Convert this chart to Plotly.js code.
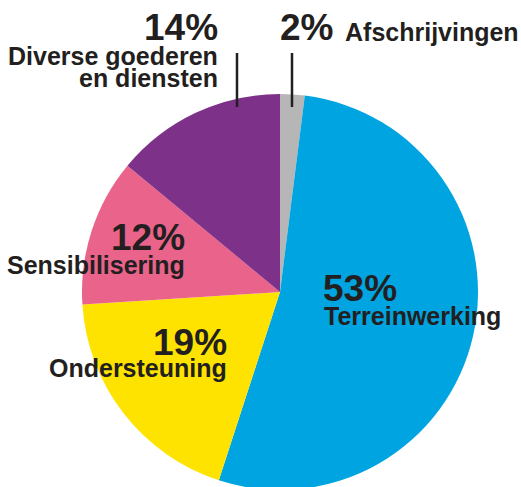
<!DOCTYPE html>
<html>
<head>
<meta charset="utf-8">
<script src="https://cdn.plot.ly/plotly-3.0.1.min.js"></script>
<style>
html,body{margin:0;padding:0;overflow:hidden;background:#fff;width:521px;height:487px;}
#chart{width:521px;height:500px;}
</style>
</head>
<body>
<div id="chart"></div>
<script>
const labels = ["Afschrijvingen", "Terreinwerking", "Ondersteuning", "Sensibilisering", "Diverse goederen en diensten"];
const values = [2, 53, 19, 12, 14];
const colors = ["#b6b6b6", "#00a4e0", "#ffe300", "#e9638a", "#7d3188"];

const W = 521, H = 500;
const px = x => x / W;
const py = y => (H - y) / H;
const ink = "#231f20";
const fam = "Liberation Sans, Arial, sans-serif";
const bigF = {family: fam, size: 37, color: ink, weight: "bold"};
const labF = {family: fam, size: 25, color: ink, weight: "bold"};

function ann(text, x, baseline, font, anchor) {
  return {text: text, xref: "paper", yref: "paper", x: px(x), y: py(baseline + font.size * 0.2),
          xanchor: anchor, yanchor: "bottom", showarrow: false, font: font, borderpad: 0};
}

const annotations = [
  ann(values[4] + "%", 219, 42, bigF, "right"),
  ann("Diverse goederen", 219, 66, labF, "right"),
  ann("en diensten", 219, 88, labF, "right"),
  ann(values[0] + "%", 334, 42, bigF, "right"),
  ann(labels[0], 344, 42, labF, "left"),
  ann(values[3] + "%", 186, 252, bigF, "right"),
  ann(labels[3], 186, 275, labF, "right"),
  ann(values[2] + "%", 228, 357, bigF, "right"),
  ann(labels[2], 228, 378, labF, "right"),
  ann(values[1] + "%", 322, 303, bigF, "left"),
  ann(labels[1], 323, 326, labF, "left")
];

const shapes = [
  {type: "line", xref: "paper", yref: "paper", x0: px(237), x1: px(237), y0: py(53), y1: py(107), line: {color: ink, width: 2.5}},
  {type: "line", xref: "paper", yref: "paper", x0: px(292), x1: px(292), y0: py(53), y1: py(107), line: {color: ink, width: 2.5}}
];

const trace = {
  type: "pie",
  labels: labels,
  values: values,
  sort: false,
  direction: "clockwise",
  rotation: 0,
  marker: {colors: colors, line: {width: 0}},
  textinfo: "none",
  hoverinfo: "none",
  domain: {x: [px(280 - 198), px(280 + 198)], y: [py(292 + 198), py(292 - 198)]},
  showlegend: false
};

Plotly.newPlot("chart", [trace], {
  width: W, height: H,
  margin: {l: 0, r: 0, t: 0, b: 0},
  paper_bgcolor: "#fff",
  showlegend: false,
  annotations: annotations,
  shapes: shapes
}, {displayModeBar: false, staticPlot: true});
</script>
</body>
</html>
